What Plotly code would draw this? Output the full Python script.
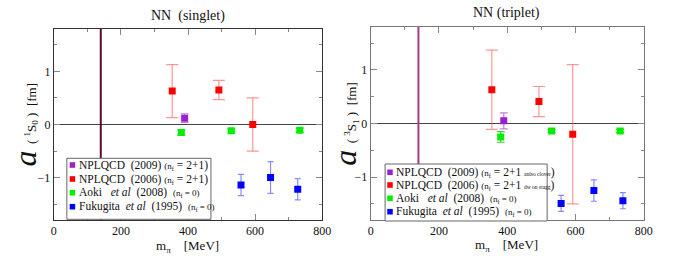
import plotly.graph_objects as go

# ---------------- data ----------------
m_pi_phys = [140]

# singlet  a(1S0)
npl09_s_x = [390]; npl09_s_y = [0.12]; npl09_s_e = [0.08]
npl06_s_x = [353, 492, 593]; npl06_s_y = [0.63, 0.65, 0.0]; npl06_s_e = [0.5, 0.18, 0.5]
aoki_s_x = [380, 529, 733]; aoki_s_y = [-0.15, -0.12, -0.11]; aoki_s_e = [0.05, 0.04, 0.04]
fuku_s_x = [558, 646, 727]; fuku_s_y = [-1.14, -1.0, -1.22]; fuku_s_e = [0.2, 0.3, 0.2]

# triplet  a(3S1)
npl09_t_x = [390]; npl09_t_y = [0.05]; npl09_t_e = [0.15]
npl06_t_x = [355, 493, 592]; npl06_t_y = [0.63, 0.41, -0.2]; npl06_t_e = [0.74, 0.28, 1.3]
aoki_t_x = [381, 530, 731]; aoki_t_y = [-0.25, -0.14, -0.14]; aoki_t_e = [0.1, 0.03, 0.03]
fuku_t_x = [558, 654, 739]; fuku_t_y = [-1.49, -1.25, -1.44]; fuku_t_e = [0.15, 0.2, 0.15]

x_ticks = [0, 200, 400, 600, 800]
y_ticks = [-1, 0, 1]

FONT = "Liberation Serif"
W, H = 676, 261

def px(x):
    return x / W

def py(y):
    return 1 - y / H

series_style = {
    "purple": dict(mc="#9a20d0", ec="rgba(160,40,210,0.6)", cw=4),
    "red": dict(mc="#ff0000", ec="rgba(255,80,80,0.6)", cw=6),
    "green": dict(mc="#00ee00", ec="rgba(0,200,0,0.8)", cw=4),
    "blue": dict(mc="#0000ff", ec="rgba(60,60,255,0.6)", cw=3),
}

fig = go.Figure()

def add_series(x, y, e, key, xa, ya):
    s = series_style[key]
    fig.add_trace(go.Scatter(
        x=x, y=y, mode="markers", xaxis=xa, yaxis=ya, showlegend=False,
        marker=dict(symbol="square", size=7, color=s["mc"]),
        error_y=dict(type="data", array=e, color=s["ec"], thickness=1.2, width=s["cw"]),
        hoverinfo="x+y",
    ))

add_series(npl06_s_x, npl06_s_y, npl06_s_e, "red", "x", "y")
add_series(npl09_s_x, npl09_s_y, npl09_s_e, "purple", "x", "y")
add_series(aoki_s_x, aoki_s_y, aoki_s_e, "green", "x", "y")
add_series(fuku_s_x, fuku_s_y, fuku_s_e, "blue", "x", "y")

add_series(npl06_t_x, npl06_t_y, npl06_t_e, "red", "x2", "y2")
add_series(npl09_t_x, npl09_t_y, npl09_t_e, "purple", "x2", "y2")
add_series(aoki_t_x, aoki_t_y, aoki_t_e, "green", "x2", "y2")
add_series(fuku_t_x, fuku_t_y, fuku_t_e, "blue", "x2", "y2")

def xaxis_cfg(domain, anchor, linecolor):
    return dict(
        domain=domain, anchor=anchor, range=[0, 800], tickvals=x_ticks,
        ticks="inside", ticklen=6, tickcolor="#888", showline=True, linecolor=linecolor,
        linewidth=1, mirror="ticks", showgrid=False, zeroline=False,
        minor=dict(dtick=100, tick0=0, ticks="inside", ticklen=3, tickcolor="#888", showgrid=False),
        tickfont=dict(family=FONT, size=12, color="#111"),
    )

def yaxis_cfg(domain, anchor, linecolor):
    return dict(
        domain=domain, anchor=anchor, range=[-1.8, 1.8], tickvals=y_ticks,
        ticks="inside", ticklen=6, tickcolor="#888", showline=True, linecolor=linecolor,
        linewidth=1, mirror="ticks", showgrid=False, zeroline=True, zerolinecolor="#444",
        zerolinewidth=1,
        minor=dict(dtick=0.5, tick0=0, ticks="inside", ticklen=3, tickcolor="#888", showgrid=False),
        tickfont=dict(family=FONT, size=12, color="#111"),
    )

fig.update_layout(
    width=W, height=H, margin=dict(l=0, r=0, t=0, b=0),
    paper_bgcolor="white", plot_bgcolor="white", showlegend=False,
    font=dict(family=FONT, color="#111"),
    xaxis=xaxis_cfg([px(51.7), px(325)], "y", "#333"),
    yaxis=yaxis_cfg([py(220), py(29)], "x", "#333"),
    xaxis2=xaxis_cfg([px(374.3), px(652.3)], "y2", "#777"),
    yaxis2=yaxis_cfg([py(220), py(27)], "x2", "#777"),
)

# physical pion mass lines
fig.add_shape(type="line", xref="x", yref="y domain", x0=m_pi_phys[0], x1=m_pi_phys[0], y0=0, y1=1,
              line=dict(color="#5a0a30", width=2))
fig.add_shape(type="line", xref="x2", yref="y2 domain", x0=m_pi_phys[0], x1=m_pi_phys[0], y0=0, y1=1,
              line=dict(color="#a0407a", width=2))

def ann(text, x, y, size, angle=0, xanchor="center"):
    fig.add_annotation(text=text, x=px(x), y=py(y), xref="paper", yref="paper",
                       showarrow=False, textangle=angle, xanchor=xanchor, yanchor="middle",
                       font=dict(family=FONT, size=size, color="#111"))

# titles
ann("NN  (singlet)", 188, 16, 14)
ann("NN (triplet)", 513, 13.5, 14)
ann("m<sub>π</sub>    [MeV]", 188, 246, 13)
ann("m<sub>π</sub>    [MeV]", 513, 245, 13)
ann("<span style='font-size:32px'><i>a</i></span>  ( <sup>1</sup>S<sub>0</sub> )  [fm]", 22, 125, 13, angle=-90)
ann("<span style='font-size:32px'><i>a</i></span>  ( <sup>3</sup>S<sub>1</sub> )  [fm]", 348, 124, 13, angle=-90)

# legends (manual boxes)
def legend(box, rows, entries, mx, tx, size):
    x0, y0, x1, y1 = box
    fig.add_shape(type="rect", xref="paper", yref="paper", x0=px(x0), x1=px(x1), y0=py(y1), y1=py(y0),
                  line=dict(color="#666", width=1), fillcolor="white", layer="above")
    for ry, (key, text) in zip(rows, entries):
        c = series_style[key]["mc"]
        fig.add_shape(type="rect", xref="paper", yref="paper", x0=px(mx - 2.8), x1=px(mx + 2.8),
                      y0=py(ry + 2.8), y1=py(ry - 2.8), line=dict(width=0), fillcolor=c, layer="above")
        ann(text, tx, ry, size, xanchor="left")

sm = "font-size:9px"
tiny = "font-size:5.5px"
legend((65, 158.3, 211.7, 219.3), [165, 179, 192.7, 206.7], [
    ("purple", f"NPLQCD  (2009) <span style='{sm}'>(n<sub>f</sub></span> = 2+1)"),
    ("red", f"NPLQCD  (2006) <span style='{sm}'>(n<sub>f</sub></span> = 2+1)"),
    ("green", f"Aoki   <i>et al</i>  (2008)  <span style='{sm}'>(n<sub>f</sub> = 0)</span>"),
    ("blue", f"Fukugita  <i>et al</i>  (1995)  <span style='{sm}'>(n<sub>f</sub> = 0)</span>"),
], 70.7, 75, 11.5)

legend((389, 164, 554, 221), [172.3, 185, 198.3, 211.7], [
    ("purple", f"NPLQCD  (2009) <span style='{sm}'>(n<sub>f</sub></span> = 2+1 <span style='{tiny}'>aniso clover</span>)"),
    ("red", f"NPLQCD  (2006) <span style='{sm}'>(n<sub>f</sub></span> = 2+1 <span style='{tiny}'>dw on stagg</span>)"),
    ("green", f"Aoki   <i>et al</i>  (2008)  <span style='{sm}'>(n<sub>f</sub> = 0)</span>"),
    ("blue", f"Fukugita  <i>et al</i>  (1995)  <span style='{sm}'>(n<sub>f</sub> = 0)</span>"),
], 394, 398, 11.5)

fig.write_html("out.html", config={"displayModeBar": False},
               post_script="document.body.style.margin='0px';")
